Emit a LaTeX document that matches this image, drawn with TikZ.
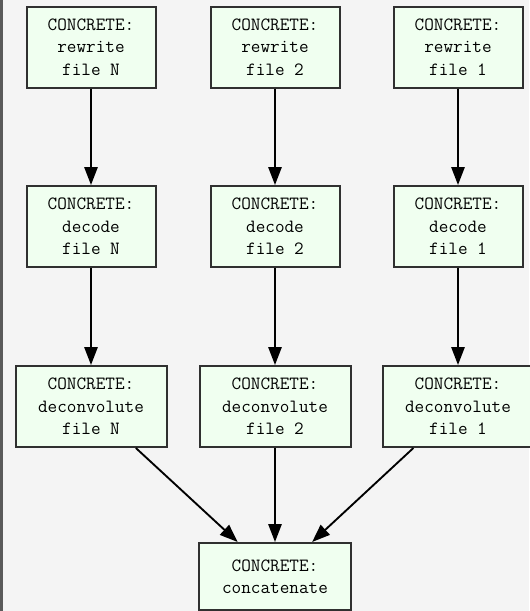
\documentclass[tikz,border=0pt]{standalone}
\usepackage{fontspec}
\usetikzlibrary{arrows.meta}
\definecolor{pagebg}{HTML}{F4F4F4}
\definecolor{boxfill}{HTML}{F0FFF0}
\definecolor{boxline}{HTML}{303030}
\definecolor{edgeline}{HTML}{5A5A5A}
\newcommand\boxfont{\ttfamily\addfontfeatures{LetterSpace=4}\fontsize{14}{16.9}\selectfont}
\tikzset{
  px/.style={x=0.75pt,y=-0.75pt},
  task/.style={draw=boxline, fill=boxfill, line width=1.5pt, inner sep=0pt,
    align=center, font=\boxfont, minimum height=60.75pt},
  narrow/.style={task, minimum width=96.75pt},
  wide/.style={task, minimum width=113.25pt},
  flow/.style={line width=1.4pt, -{Triangle[length=13.5pt,width=10pt]}}
}
\begin{document}
\begin{tikzpicture}[px]
  % page area and left rule
  \fill[pagebg] (0,0) rectangle (529,611);
  \useasboundingbox (0,0) rectangle (529,611);
  \fill[edgeline] (0,0) rectangle (3,611);

  % rewrite stage
  \node[narrow] (rN) at (91,47) {CONCRETE:\\rewrite\\file N};
  \node[narrow] (r2) at (275,47) {CONCRETE:\\rewrite\\file 2};
  \node[narrow] (r1) at (458,47) {CONCRETE:\\rewrite\\file 1};

  % decode stage
  \node[narrow] (dN) at (91,226.5) {CONCRETE:\\decode\\file N};
  \node[narrow] (d2) at (275,226.5) {CONCRETE:\\decode\\file 2};
  \node[narrow] (d1) at (458,226.5) {CONCRETE:\\decode\\file 1};

  % deconvolute stage
  \node[wide] (cN) at (91,406.5) {CONCRETE:\\deconvolute\\file N};
  \node[wide] (c2) at (275,406.5) {CONCRETE:\\deconvolute\\file 2};
  \node[wide] (c1) at (458,406.5) {CONCRETE:\\deconvolute\\file 1};

  % final merge
  \node[task, minimum width=114pt, minimum height=50.25pt] (cat) at (275,576.5)
    {CONCRETE:\\concatenate};

  % edges
  \draw[flow] (rN) -- (dN);
  \draw[flow] (r2) -- (d2);
  \draw[flow] (r1) -- (d1);
  \draw[flow] (dN) -- (cN);
  \draw[flow] (d2) -- (c2);
  \draw[flow] (d1) -- (c1);
  \draw[flow] (cN) -- (cat);
  \draw[flow] (c2) -- (cat);
  \draw[flow] (c1) -- (cat);
\end{tikzpicture}
\end{document}
